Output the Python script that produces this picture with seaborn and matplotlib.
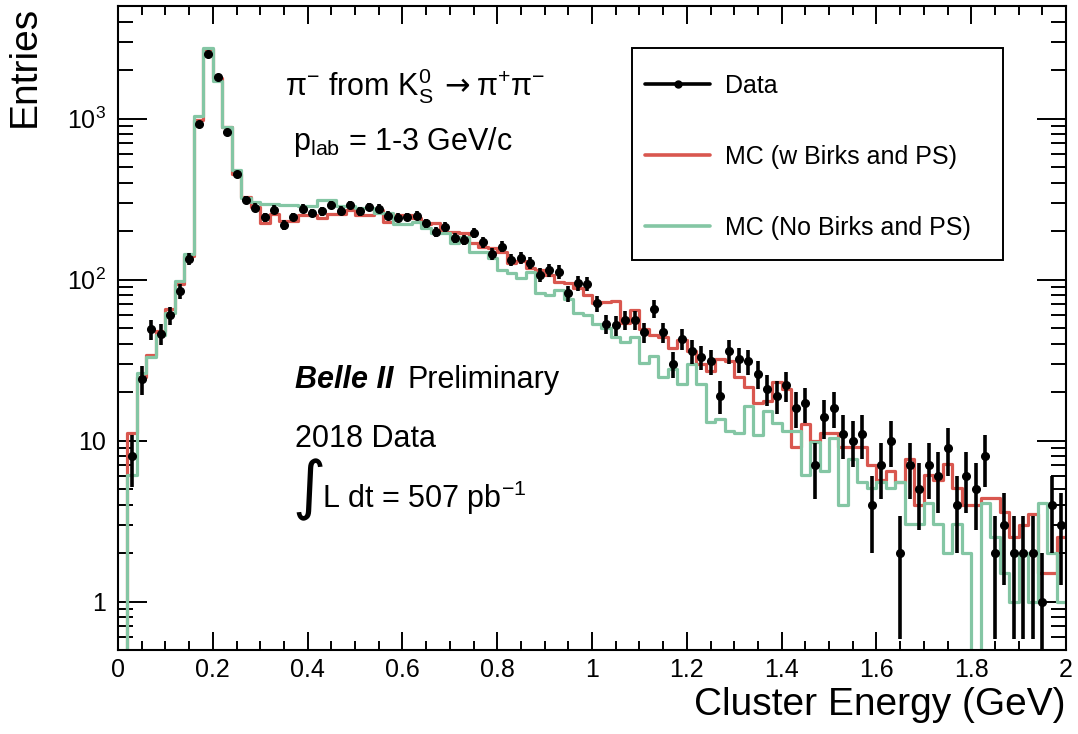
import numpy as np
import pandas as pd
import matplotlib
matplotlib.use("Agg")
import matplotlib.pyplot as plt
import seaborn as sns
from matplotlib.lines import Line2D
from matplotlib.patches import Rectangle
from matplotlib.ticker import MultipleLocator, LogLocator, FixedLocator, FixedFormatter, NullFormatter

# ---------------- data ----------------
n_bins = 100
e_min, e_max = 0.0, 2.0

data_counts = [
    0, 8, 24, 49, 46, 60, 85, 134, 930, 2500,
    1800, 830, 450, 313, 280, 244, 272, 219, 245, 276,
    260, 265, 292, 268, 292, 265, 283, 276, 249, 242,
    245, 249, 224, 198, 213, 182, 177, 195, 171, 145,
    160, 132, 136, 127, 107, 115, 112, 82, 95, 94,
    71, 53, 52, 56, 56, 47, 66, 47, 30, 43,
    36, 33, 31, 19, 36, 32, 31, 26, 21, 19,
    22, 16, 17, 7, 14, 16, 11, 10, 11, 4,
    7, 10, 2, 7, 5, 7, 6, 9, 4, 6,
    5, 8, 2, 3, 2, 2, 2, 1, 4, 3,
]

mc_birks_ps = [
    0, 11.1, 24.8, 34, 48, 66, 94, 140, 985, 2690,
    1780, 880, 450, 325, 282, 225, 257, 232, 232, 253,
    253, 242, 257, 257, 272, 253, 253, 272, 229, 253,
    253, 242, 222, 225, 198, 198, 195, 169, 160, 157,
    149, 127, 130, 118, 115, 107, 97, 95, 88, 80,
    71, 73, 74, 54, 64.7, 49, 45.3, 44.2, 37.4, 42.1,
    36.1, 29.9, 27.1, 31.9, 31.3, 24.7, 21.6, 17, 17.7, 23.2,
    20.8, 9.1, 12.6, 10, 11.1, 11.1, 9.1, 9.1, 9.1, 7.0,
    5.7, 6.5, 5.5, 7.7, 4.0, 6.1, 5.7, 7.1, 5.1, 4.0,
    4.0, 4.4, 4.4, 3.6, 2.5, 3.0, 3.5, 1.5, 1.5, 2.5,
]

mc_no_birks_ps = [
    0, 6.1, 26.3, 33, 45, 62, 98, 145, 1030, 2760,
    1700, 880, 482, 322, 304, 295, 295, 292, 292, 287,
    285, 310, 310, 287, 287, 279, 279, 260, 260, 222,
    222, 229, 210, 195, 195, 169, 184, 149, 149, 136,
    115, 110, 102, 112, 83, 80, 86, 75.5, 62, 60,
    53, 49.8, 44.2, 41, 44.2, 30.4, 33.5, 24.7, 28, 22.4,
    29.9, 22.4, 13.1, 13.7, 11.5, 11.1, 16.4, 10.8, 15.3, 12.8,
    11.5, 11.5, 6.1, 9.8, 6.5, 10.3, 4.0, 7.7, 5.5, 5.05,
    5.5, 5.05, 5.5, 3.05, 3.05, 4.07, 3.05, 2.0, 3.05, 2.0,
    0, 4.07, 2.5, 1.5, 1.0, 2.0, 1.0, 4.07, 2.0, 1.0,
]

legend_labels = ["Data", "MC (w Birks and PS)", "MC (No Birks and PS)"]
x_tick_values = [0, 0.2, 0.4, 0.6, 0.8, 1.0, 1.2, 1.4, 1.6, 1.8, 2.0]
x_tick_labels = ["0", "0.2", "0.4", "0.6", "0.8", "1", "1.2", "1.4", "1.6", "1.8", "2"]
y_tick_values = [1, 10, 100, 1000]
y_tick_labels = ["1", "10", r"$10^{2}$", r"$10^{3}$"]

RED = "#d9574f"
GREEN = "#84c6a4"

# ---------------- frame ----------------
edges = np.linspace(e_min, e_max, n_bins + 1)
centers = 0.5 * (edges[:-1] + edges[1:])
df = pd.DataFrame({
    "energy": centers,
    "data": data_counts,
    "birks": mc_birks_ps,
    "nobirks": mc_no_birks_ps,
})

sns.set_style("ticks")
plt.rcParams["font.family"] = ["Liberation Sans", "DejaVu Sans"]
plt.rcParams["mathtext.fontset"] = "custom"
plt.rcParams["mathtext.rm"] = "Liberation Sans"
plt.rcParams["mathtext.it"] = "Liberation Sans:italic"
plt.rcParams["mathtext.bf"] = "Liberation Sans:bold"
for key in ["text.color", "axes.labelcolor", "xtick.color", "ytick.color", "axes.edgecolor"]:
    plt.rcParams[key] = "black"

W, H = 1078, 734
fig = plt.figure(figsize=(W / 100, H / 100), dpi=100)
ax = fig.add_axes([118 / W, 1 - 650 / H, 948 / W, 644 / H])

sns.histplot(data=df, x="energy", weights="birks", bins=n_bins, binrange=(e_min, e_max),
             element="step", fill=False, color=RED, linewidth=2.3, ax=ax)
sns.histplot(data=df, x="energy", weights="nobirks", bins=n_bins, binrange=(e_min, e_max),
             element="step", fill=False, color=GREEN, linewidth=2.3, ax=ax)

ax.set_yscale("log")
pts = df[df["data"] > 0]
ax.errorbar(pts["energy"], pts["data"], yerr=np.sqrt(pts["data"]), fmt="o",
            color="black", ms=5.5, elinewidth=2.6, capsize=0, zorder=5)

ax.set_xlim(e_min, e_max)
ax.set_ylim(0.5, 5000)

# ticks
ax.xaxis.set_major_locator(FixedLocator(x_tick_values))
ax.xaxis.set_major_formatter(FixedFormatter(x_tick_labels))
ax.xaxis.set_minor_locator(MultipleLocator(0.05))
ax.yaxis.set_major_locator(FixedLocator(y_tick_values))
ax.yaxis.set_major_formatter(FixedFormatter(y_tick_labels))
ax.yaxis.set_minor_locator(LogLocator(base=10, subs=np.arange(2, 10)))
ax.yaxis.set_minor_formatter(NullFormatter())
ax.tick_params(which="both", direction="in", top=True, right=True,
               width=1.4, colors="black", labelsize=18)
ax.tick_params(axis="x", which="major", length=13, pad=6)
ax.tick_params(axis="x", which="minor", length=6.5)
ax.tick_params(axis="y", which="major", length=21, pad=9)
ax.tick_params(axis="y", which="minor", length=11)
for s in ax.spines.values():
    s.set_linewidth(1.5)
    s.set_color("black")

ax.set_xlabel("Cluster Energy (GeV)", fontsize=28, loc="right", color="black")
ax.set_ylabel("Entries", fontsize=28, loc="top", color="black")
ax.xaxis.set_label_coords(1.0, -0.058)
ax.yaxis.set_label_coords(-0.079, 1.0)

# legend
handles = [
    Line2D([], [], color="black", lw=2.6, marker="o", ms=5),
    Line2D([], [], color=RED, lw=2.6),
    Line2D([], [], color=GREEN, lw=2.6),
]
ax.legend(handles, legend_labels, loc="upper left",
          bbox_to_anchor=((645 - 118) / 948, (650 - 74) / 644),
          frameon=False, fontsize=18, borderpad=0, borderaxespad=0,
          handlelength=2.6, handletextpad=0.6, labelspacing=1.88)
ax.add_patch(Rectangle(((632 - 118) / 948, (650 - 260) / 644), 371 / 948, 212 / 644,
                       transform=ax.transAxes, fill=False, lw=1.4,
                       edgecolor="black", zorder=10))

# annotations
def fx(px):
    return px / W

def fy(py):
    return 1 - py / H

fig.text(fx(285), fy(96), "\u03c0$^{-}$ from K$^{0}_{\\mathrm{S}}$",
         fontsize=22, va="baseline", ha="left")
fig.text(fx(444), fy(95), "\u2192", fontsize=22, family="DejaVu Sans",
         va="baseline", ha="left")
fig.text(fx(476), fy(96), "\u03c0$^{+}$\u03c0$^{-}$",
         fontsize=22, va="baseline", ha="left")
fig.text(fx(293), fy(150), r"p$_{\mathrm{lab}}$ = 1-3 GeV/c",
         fontsize=22, va="baseline", ha="left")
fig.text(fx(295), fy(388), "Belle II", fontsize=22, fontweight="bold",
         style="italic", va="baseline", ha="left")
fig.text(fx(408), fy(388), "Preliminary", fontsize=22, va="baseline", ha="left")
fig.text(fx(295), fy(447), "2018 Data", fontsize=22, va="baseline", ha="left")
fig.text(fx(292), fy(507), "\u222b", fontsize=46, family="DejaVu Sans",
         va="baseline", ha="left")
fig.text(fx(322), fy(508), r"L dt = 507 pb$^{-1}$", fontsize=22,
         va="baseline", ha="left")

fig.savefig("out.png", dpi=100)
